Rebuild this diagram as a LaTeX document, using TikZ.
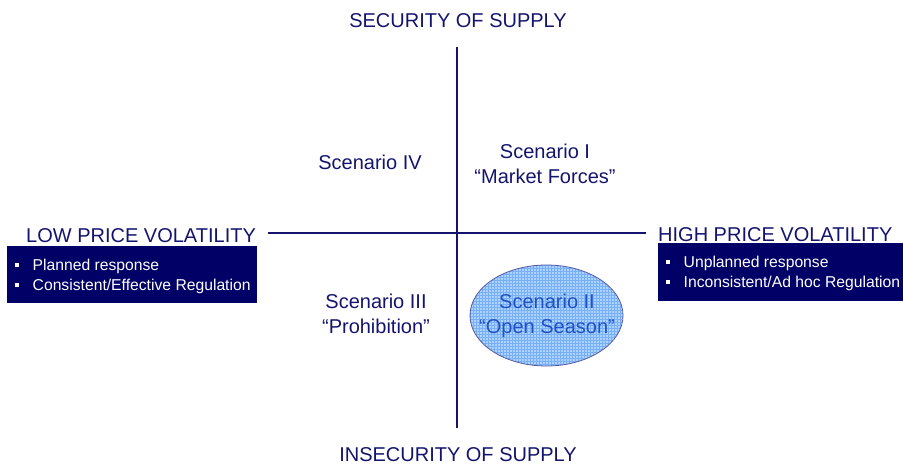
\documentclass[tikz,border=0pt]{standalone}
\usepackage{fontspec}
\setmainfont{Liberation Sans}
\usetikzlibrary{shapes.geometric}
\definecolor{navy}{RGB}{20,20,110}
\definecolor{boxnavy}{RGB}{0,0,102}
\definecolor{skyfill}{RGB}{170,212,255}
\definecolor{skygrid}{RGB}{120,175,245}
\definecolor{scenblue}{RGB}{35,80,195}
\newcommand{\sqbullet}{\textcolor{white}{\rule[3.5pt]{4pt}{4pt}}\hspace{13.5pt}}

\begin{document}
\begin{tikzpicture}[x=1pt, y=-1pt,
  axislabel/.style={text=navy, font=\fontsize{20}{24}\selectfont, inner sep=0pt, anchor=base},
  scenlabel/.style={text=navy, font=\fontsize{20}{24.7}\selectfont, align=center, inner sep=0pt},
  factlist/.style={text=white, font=\fontsize{15.7}{20}\selectfont, align=left, anchor=base west, inner sep=0pt},
  axisline/.style={draw=navy, line width=2pt}]
\useasboundingbox (0,0) rectangle (903,464);

% axis titles
\node[axislabel] at (458,27) (sec) {SECURITY OF SUPPLY};
\node[axislabel] at (458,461) (insec) {INSECURITY OF SUPPLY};
\node[axislabel, anchor=base west] at (26,242) (low) {LOW PRICE VOLATILITY};
\node[axislabel, anchor=base west] at (658,241) (high) {HIGH PRICE VOLATILITY};

% axes
\coordinate (top) at (457,47);
\coordinate (bottom) at (457,428);
\coordinate (left) at (268,233);
\coordinate (right) at (646,233);
\draw[axisline] (top) -- (bottom);
\draw[axisline] (left) -- (right);

% boxes under the volatility titles
\fill[boxnavy] (7,246) rectangle (257,303);
\node[factlist] at (15,290) (lowbox) {\sqbullet Planned response\\\sqbullet Consistent/Effective Regulation};
\fill[boxnavy] (658,243) rectangle (903,301);
\node[factlist] at (666,287) (highbox) {\sqbullet Unplanned response\\\sqbullet Inconsistent/Ad hoc Regulation};

% scenario II ellipse with grid
\begin{scope}
  \clip (546.5,315.5) ellipse [x radius=76.5, y radius=50.5];
  \fill[skyfill] (470,265) rectangle (623,366);
  \foreach \gx in {470,473,...,623} \draw[skygrid, line width=0.5pt] (\gx,265) -- (\gx,366);
  \foreach \gy in {265,268,...,366} \draw[skygrid, line width=0.5pt] (470,\gy) -- (623,\gy);
\end{scope}
\draw[draw=gray!70!blue, line width=0.8pt] (546.5,315.5) ellipse [x radius=76.5, y radius=50.5];

% scenarios
\node[scenlabel, anchor=base] at (370,169) (scen4) {Scenario IV};
\node[scenlabel, anchor=base] at (545,183) (scen1) {Scenario I\\``Market Forces''};
\node[scenlabel, anchor=base] at (376,333) (scen3) {Scenario III\\``Prohibition''};
\node[scenlabel, anchor=base, text=scenblue] at (547,333) (scen2) {Scenario II\\``Open Season''};
\end{tikzpicture}
\end{document}
